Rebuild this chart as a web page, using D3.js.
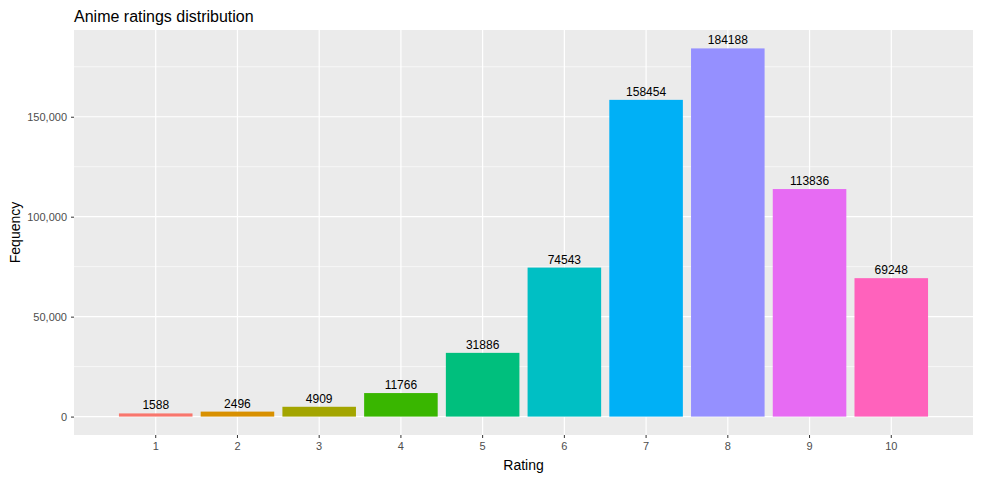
<!DOCTYPE html>
<html><head><meta charset="utf-8">
<script src="https://cdn.jsdelivr.net/npm/d3@7"></script>
<style>body{margin:0;background:#fff;font-family:"Liberation Sans",Arial,sans-serif;}</style>
</head><body><div class="chart"></div>
<script>
const ratings = ['1','2','3','4','5','6','7','8','9','10'];
const counts = [1588, 2496, 4909, 11766, 31886, 74543, 158454, 184188, 113836, 69248];
const colors = ['#F8766D','#D89000','#A3A500','#39B600','#00BF7D','#00BFC4','#00B0F6','#9590FF','#E76BF3','#FF62BC'];
const yTicks = [0, 50000, 100000, 150000];
const yMinor = [25000, 75000, 125000, 175000];

const W = 981, H = 480;
const margin = {top: 30, right: 8, bottom: 45, left: 74};
const width = W - margin.left - margin.right;
const height = H - margin.top - margin.bottom;

const svg = d3.select('.chart').append('svg').attr('width', W).attr('height', H);
const g = svg.append('g').attr('transform', `translate(${margin.left},${margin.top})`);

const maxV = d3.max(counts);
const y = d3.scaleLinear().domain([-maxV * 0.05, maxV * 1.05]).range([height, 0]);
const x = d3.scaleBand().domain(ratings).range([0, width]).paddingInner(0.1).paddingOuter(0.55);

g.append('rect').attr('width', width).attr('height', height).attr('fill', '#EBEBEB');

g.selectAll('.minor').data(yMinor).enter().append('line')
  .attr('x1', 0).attr('x2', width).attr('y1', d => y(d)).attr('y2', d => y(d))
  .attr('stroke', '#fff').attr('stroke-width', 0.6);
g.selectAll('.major').data(yTicks).enter().append('line')
  .attr('x1', 0).attr('x2', width).attr('y1', d => y(d)).attr('y2', d => y(d))
  .attr('stroke', '#fff').attr('stroke-width', 1.2);
g.selectAll('.vmajor').data(ratings).enter().append('line')
  .attr('x1', d => x(d) + x.bandwidth() / 2).attr('x2', d => x(d) + x.bandwidth() / 2)
  .attr('y1', 0).attr('y2', height).attr('stroke', '#fff').attr('stroke-width', 1.2);

g.selectAll('.bar').data(ratings).enter().append('rect')
  .attr('x', d => x(d)).attr('width', x.bandwidth())
  .attr('y', (d, i) => y(counts[i])).attr('height', (d, i) => y(0) - y(counts[i]))
  .attr('fill', (d, i) => colors[i]);

g.selectAll('.lbl').data(ratings).enter().append('text')
  .attr('x', d => x(d) + x.bandwidth() / 2).attr('y', (d, i) => y(counts[i]) - 4)
  .attr('text-anchor', 'middle').attr('font-size', 12).attr('fill', '#000')
  .text((d, i) => counts[i]);

const xAxis = g.append('g').attr('transform', `translate(0,${height})`)
  .call(d3.axisBottom(x).tickSize(3).tickPadding(4));
const yAxis = g.append('g').call(d3.axisLeft(y).tickValues(yTicks).tickSize(3).tickPadding(4));
[xAxis, yAxis].forEach(a => {
  a.select('.domain').remove();
  a.selectAll('line').attr('stroke', '#333');
  a.selectAll('text').attr('fill', '#4D4D4D').attr('font-size', 11).attr('font-family', '"Liberation Sans",Arial,sans-serif');
});

svg.append('text').attr('x', margin.left).attr('y', 22).attr('font-size', 16).text('Anime ratings distribution');
svg.append('text').attr('x', margin.left + width / 2).attr('y', 470).attr('text-anchor', 'middle').attr('font-size', 14).text('Rating');
svg.append('text').attr('transform', `translate(20,${margin.top + height / 2}) rotate(-90)`)
  .attr('text-anchor', 'middle').attr('font-size', 14).text('Fequency');
</script></body></html>
